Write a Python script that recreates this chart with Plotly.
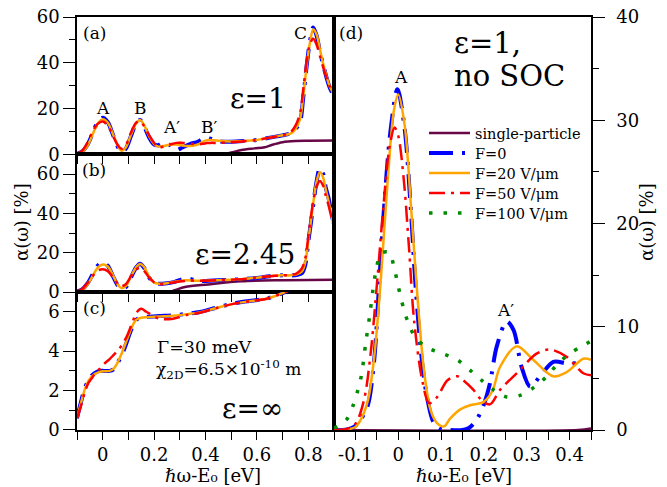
import plotly.graph_objects as go

FONT = "DejaVu Serif"
C_SP = "#670748"
C_F0 = "#0000FF"
C_F20 = "#FFA500"
C_F50 = "#FF0000"
C_F100 = "#008B00"

# ---------------- panel (a) eps = 1 ----------------
xa = [-0.1, -0.08, -0.06, -0.04, -0.02, 0.0, 0.02, 0.04, 0.06, 0.073, 0.09, 0.11, 0.13, 0.145, 0.16, 0.18,
      0.2, 0.215, 0.235, 0.26, 0.287, 0.31, 0.34, 0.37, 0.39, 0.405, 0.42, 0.45, 0.5, 0.55, 0.6, 0.65, 0.7,
      0.73, 0.75, 0.768, 0.78, 0.794, 0.806, 0.819, 0.832, 0.845, 0.858, 0.871, 0.884, 0.9]
a_f0 = [0.2, 1.2, 4.0, 9.0, 14.0, 16.0, 14.0, 8.5, 3.0, 1.0, 2.5, 8.0, 13.5, 15.0, 12.5, 7.5,
        4.3, 4.0, 5.0, 4.2, 1.9, 3.0, 4.5, 5.5, 6.8, 7.3, 6.8, 5.7, 5.5, 5.8, 6.3, 7.3, 8.3,
        9.2, 11.0, 14.3, 24.5, 39.0, 49.0, 55.4, 52.0, 45.0, 39.0, 33.5, 29.0, 25.5]
a_f20 = [0.1, 0.9, 3.6, 8.5, 13.3, 15.3, 13.8, 8.8, 3.5, 1.6, 3.0, 8.5, 13.5, 15.0, 13.0, 8.0,
         4.5, 3.4, 3.6, 4.2, 4.3, 3.8, 3.6, 4.3, 5.5, 6.2, 6.3, 5.9, 5.6, 5.8, 6.3, 7.3, 8.3,
         9.0, 11.0, 15.5, 25.0, 39.0, 48.5, 54.5, 52.5, 46.0, 39.5, 34.0, 29.5, 26.0]
a_f50 = [0.3, 1.5, 5.0, 9.8, 13.3, 14.3, 12.5, 8.0, 3.8, 2.4, 4.0, 9.5, 13.8, 14.5, 12.5, 8.5,
         5.0, 3.0, 3.3, 4.2, 5.0, 5.0, 4.7, 4.4, 4.6, 4.9, 5.0, 5.0, 5.3, 5.7, 6.3, 7.3, 8.3,
         9.5, 12.5, 18.0, 28.0, 41.0, 48.0, 50.5, 48.0, 43.0, 38.0, 33.5, 29.5, 26.0]
xa_sp = [-0.1, 0.3, 0.46, 0.5, 0.54, 0.59, 0.63, 0.66, 0.7, 0.75, 0.8, 0.9]
a_sp = [0.0, 0.0, 0.0, 0.8, 1.9, 2.6, 3.1, 4.2, 5.3, 5.8, 5.9, 6.0]

# ---------------- panel (b) eps = 2.45 ----------------
xb = [-0.1, -0.08, -0.06, -0.04, -0.02, 0.0, 0.02, 0.04, 0.06, 0.073, 0.09, 0.11, 0.13, 0.145, 0.16, 0.18,
      0.2, 0.22, 0.25, 0.28, 0.31, 0.33, 0.36, 0.4, 0.45, 0.5, 0.55, 0.6, 0.65, 0.7, 0.73, 0.755, 0.775,
      0.788, 0.8, 0.81, 0.819, 0.832, 0.845, 0.858, 0.868, 0.879, 0.89, 0.9]
b_f0 = [0.3, 1.3, 4.2, 8.8, 13.3, 15.2, 13.3, 8.0, 3.0, 1.5, 2.5, 7.5, 12.5, 14.4, 12.5, 7.5,
        4.5, 4.2, 4.5, 5.2, 6.5, 7.0, 6.0, 5.6, 6.0, 6.3, 6.6, 7.2, 8.0, 8.5, 8.4, 8.7, 9.5,
        13.7, 25.6, 35.0, 44.0, 56.0, 63.0, 60.0, 53.0, 47.7, 40.0, 34.0]
b_f20 = [0.2, 1.0, 3.6, 8.0, 12.3, 14.0, 13.0, 8.5, 3.5, 2.0, 3.0, 8.0, 12.5, 14.3, 13.0, 8.0,
         4.8, 4.2, 4.5, 5.3, 5.8, 6.0, 5.8, 5.8, 6.0, 6.3, 6.7, 7.3, 8.0, 8.5, 8.5, 9.0, 10.5,
         15.0, 26.0, 36.0, 45.0, 56.0, 61.0, 58.0, 52.0, 46.0, 39.0, 33.0]
b_f50 = [0.4, 1.5, 4.5, 8.0, 10.8, 11.6, 10.6, 7.5, 4.0, 3.0, 4.0, 8.0, 11.5, 12.3, 11.0, 7.5,
         5.0, 4.0, 4.3, 5.0, 5.5, 5.8, 5.8, 5.8, 6.0, 6.3, 6.7, 7.3, 8.0, 8.5, 8.6, 9.5, 12.0,
         17.0, 28.0, 38.0, 46.0, 53.5, 56.5, 54.0, 49.0, 44.0, 38.0, 33.0]
xb_sp = [-0.1, 0.2, 0.26, 0.32, 0.41, 0.54, 0.7, 0.9]
b_sp = [0.0, 0.0, 0.2, 2.6, 3.9, 5.5, 6.0, 6.2]

# ---------------- panel (c) eps = infinity ----------------
xc = [-0.1, -0.085, -0.07, -0.055, -0.044, -0.03, -0.012, 0.005, 0.027, 0.042, 0.053, 0.066, 0.079, 0.092,
      0.105, 0.118, 0.131, 0.15, 0.17, 0.22, 0.274, 0.33, 0.378, 0.44, 0.508, 0.57, 0.638, 0.709, 0.75]
c_f0 = [0.6, 1.4, 2.1, 2.55, 2.75, 2.9, 3.0, 3.0, 3.0, 3.08, 3.27, 3.6, 3.95, 4.4,
        4.9, 5.3, 5.6, 5.72, 5.74, 5.78, 5.82, 5.9, 5.99, 6.2, 6.42, 6.55, 6.67, 7.0, 7.3]
c_f20 = [0.6, 1.35, 2.05, 2.5, 2.7, 2.85, 2.95, 2.98, 3.0, 3.1, 3.3, 3.65, 4.05, 4.5,
         4.95, 5.35, 5.6, 5.7, 5.72, 5.76, 5.8, 5.88, 5.97, 6.18, 6.4, 6.53, 6.66, 7.0, 7.3]
c_f50 = [0.6, 1.2, 1.9, 2.4, 2.6, 2.85, 3.1, 3.35, 3.6, 3.8, 3.95, 4.15, 4.4, 4.7,
         5.1, 5.55, 5.95, 6.15, 6.0, 5.65, 5.65, 5.85, 5.95, 6.18, 6.4, 6.53, 6.66, 7.0, 7.3]

# ---------------- panel (d) eps = 1, no SOC ----------------
xd_f0 = [-0.15, -0.12, -0.1035, -0.09, -0.072, -0.057, -0.045, -0.033, -0.018, -0.002, 0.014, 0.029, 0.0405,
         0.056, 0.068, 0.083, 0.1, 0.12, 0.15, 0.165, 0.183, 0.2, 0.214, 0.23, 0.253, 0.269, 0.288, 0.308,
         0.331, 0.362, 0.393, 0.417, 0.43]
d_f0 = [0.0, 0.05, 0.3, 0.9, 2.25, 6.4, 13.9, 21.6, 29.0, 33.0, 29.5, 21.6, 13.9,
        6.4, 3.0, 0.7, 0.1, 0.0, 0.0, 0.2, 1.0, 2.5, 4.5, 8.1, 10.5, 9.7, 6.1, 4.2,
        5.2, 6.6, 6.45, 6.45, 6.4]
xd_f20 = [-0.15, -0.12, -0.1, -0.085, -0.07, -0.055, -0.04, -0.025, -0.01, 0.0, 0.015, 0.03, 0.045, 0.06,
          0.075, 0.09, 0.107, 0.121, 0.145, 0.1675, 0.1986, 0.22, 0.2376, 0.2766, 0.315, 0.362, 0.393,
          0.432, 0.45]
d_f20 = [0.0, 0.05, 0.3, 1.2, 3.0, 7.5, 15.0, 24.0, 31.0, 32.5, 29.5, 21.5, 12.8, 5.8,
         2.0, 0.7, 0.35, 1.1, 2.0, 2.4, 2.7, 3.8, 6.1, 8.1, 6.8, 5.2, 5.6, 6.9, 6.8]
xd_f50 = [-0.15, -0.12, -0.1, -0.08, -0.0645, -0.049, -0.035, -0.02, -0.0085, 0.0, 0.013, 0.025, 0.037,
          0.056, 0.072, 0.091, 0.1145, 0.138, 0.152, 0.175, 0.199, 0.215, 0.238, 0.277, 0.323, 0.354,
          0.393, 0.432, 0.45]
d_f50 = [0.0, 0.1, 0.6, 2.9, 7.4, 14.5, 21.5, 27.5, 29.3, 28.5, 24.2, 17.7, 10.6,
         4.8, 2.6, 3.2, 4.8, 5.2, 4.8, 3.9, 2.7, 2.5, 3.9, 5.5, 7.4, 7.8, 7.1, 5.5, 5.3]
xd_f100 = [-0.15, -0.135, -0.119, -0.1035, -0.094, -0.086, -0.076, -0.066, -0.057, -0.0505, -0.041, -0.0217,
           -0.01, -0.002, 0.0056, 0.015, 0.027, 0.043, 0.072, 0.107, 0.138, 0.1675, 0.195, 0.222, 0.253,
           0.288, 0.319, 0.347, 0.37, 0.397, 0.428, 0.45]
d_f100 = [0.2, 0.5, 1.1, 2.6, 3.9, 5.3, 8.4, 11.3, 14.2, 15.7, 17.1, 17.2,
          15.8, 14.3, 12.9, 11.4, 10.0, 8.8, 7.9, 7.35, 6.8, 5.8, 4.8, 3.9, 3.2,
          3.4, 4.2, 5.2, 6.3, 7.3, 8.1, 8.6]
xd_sp = [-0.15, 0.42, 0.45]
d_sp = [0.0, 0.0, 0.15]

names = ["single-particle", "F=0", "F=20 V/\u03bcm", "F=50 V/\u03bcm", "F=100 V/\u03bcm"]
keys = ["sp", "f0", "f20", "f50", "f100"]
styles = {
    "sp": dict(color=C_SP, width=2.5, dash="solid"),
    "f0": dict(color=C_F0, width=4, dash="24px,9px,3px,9px"),
    "f20": dict(color=C_F20, width=2.5, dash="solid"),
    "f50": dict(color=C_F50, width=2.5, dash="16px,6px,3px,6px"),
    "f100": dict(color=C_F100, width=3.5, dash="3.5px,11px"),
}

OFF = 8
W, H = 667 - OFF, 487 - OFF
PL, PR, PT, PB = 77, 591, 17, 430

fig = go.Figure()


def add(x, y, key, ax, show):
    st = styles[key]
    i = keys.index(key)
    sfx = "" if ax == 1 else str(ax)
    fig.add_trace(go.Scatter(
        x=x, y=y, mode="lines", name=names[i], showlegend=show,
        legend="legend" if i == 0 else "legend%d" % (i + 1),
        line=dict(color=st["color"], width=st["width"], dash=st["dash"], shape="spline", smoothing=0.9),
        xaxis="x" + sfx, yaxis="y" + sfx, hoverinfo="skip"))


add(xa_sp, a_sp, "sp", 1, False)
add(xa, a_f0, "f0", 1, False)
add(xa, a_f20, "f20", 1, False)
add(xa, a_f50, "f50", 1, False)

add(xb_sp, b_sp, "sp", 2, False)
add(xb, b_f0, "f0", 2, False)
add(xb, b_f20, "f20", 2, False)
add(xb, b_f50, "f50", 2, False)

add(xc, c_f0, "f0", 3, False)
add(xc, c_f20, "f20", 3, False)
add(xc, c_f50, "f50", 3, False)

add(xd_sp, d_sp, "sp", 4, True)
add(xd_f0, d_f0, "f0", 4, True)
add(xd_f20, d_f20, "f20", 4, True)
add(xd_f50, d_f50, "f50", 4, True)
add(xd_f100, d_f100, "f100", 4, True)

tickfont = dict(family=FONT, size=18, color="black")
common_axis = dict(showline=True, linecolor="black", linewidth=1.5, mirror=True, showgrid=False,
                   zeroline=False, ticks="outside", tickcolor="black", tickwidth=1.2, tickfont=tickfont,
                   automargin=False, fixedrange=True, ticklabeloverflow="allow")

left_x = dict(range=[-0.1, 0.9], domain=[0, 0.5], tickmode="linear", tick0=0, dtick=0.2, ticklen=8,
              ticklabelstandoff=0,
              minor=dict(ticks="outside", tickmode="linear", tick0=0, dtick=0.1, ticklen=8,
                         tickcolor="black", tickwidth=1.2))


def py(v):
    return (PB - v) / (PB - PT)


def px(v):
    return (v - PL) / (PR - PL)


legends = {}
rows = [133, 153, 173, 193, 213]
for i in range(5):
    key = "legend" if i == 0 else "legend%d" % (i + 1)
    legends[key] = dict(x=px(424), y=py(rows[i]), xanchor="left", yanchor="middle", bgcolor="rgba(0,0,0,0)",
                        font=dict(family=FONT, size=14.5, color="black"), itemwidth=41, borderwidth=0)

fig.update_layout(
    width=W, height=H, template="none",
    margin=dict(l=PL - OFF, r=W - (PR - OFF), t=PT - OFF, b=H - (PB - OFF), autoexpand=False),
    paper_bgcolor="white", plot_bgcolor="white",
    font=dict(family=FONT, size=18, color="black"),
    xaxis=dict(**common_axis, **left_x, anchor="y", showticklabels=False),
    xaxis2=dict(**common_axis, **left_x, anchor="y2", showticklabels=False),
    xaxis3=dict(**common_axis, **left_x, anchor="y3", showticklabels=True),
    yaxis=dict(**common_axis, domain=[0.6675, 1.0], range=[0, 60], anchor="x", tickmode="linear", tick0=0, dtick=20,
               ticklen=12, minor=dict(ticks="outside", tickmode="linear", tick0=0, dtick=10, ticklen=6, tickcolor="black")),
    yaxis2=dict(**common_axis, domain=[0.334, 0.6675], range=[0, 70], anchor="x2", tickmode="linear", tick0=0, dtick=20,
                ticklen=12, minor=dict(ticks="outside", tickmode="linear", tick0=0, dtick=10, ticklen=6, tickcolor="black")),
    yaxis3=dict(**common_axis, domain=[0.0, 0.334], range=[0, 7], anchor="x3", tickmode="linear", tick0=0, dtick=2,
                ticklen=12, minor=dict(ticks="outside", tickmode="linear", tick0=0, dtick=1, ticklen=6, tickcolor="black")),
    xaxis4=dict(**common_axis, domain=[0.5, 1.0], range=[-0.15, 0.45], anchor="y4",
                tickmode="array", tickvals=[-0.1, 0, 0.1, 0.2, 0.3, 0.4],
                ticktext=["-0.1", "0", "0.1", "0.2", "0.3", "0.4"], ticklen=8, ticklabelstandoff=0,
                minor=dict(ticks="outside", tickmode="linear", tick0=0, dtick=0.05, ticklen=8, tickcolor="black")),
    yaxis4=dict(**common_axis, domain=[0.0, 1.0], range=[0, 40], anchor="x4", side="right",
                tickmode="linear", tick0=0, dtick=10, ticklen=12, ticklabelstandoff=8,
                minor=dict(ticks="outside", tickmode="linear", tick0=0, dtick=5, ticklen=6, tickcolor="black")),
    **legends,
)


def ann(text, x, y, size, xanchor="center", angle=0):
    fig.add_annotation(text=text, x=px(x), y=py(y), xref="paper", yref="paper",
                       showarrow=False, xanchor=xanchor, yanchor="middle", textangle=angle,
                       font=dict(family=FONT, size=size, color="black"))


ann("(a)", 94, 33, 17)
ann("A", 103, 108, 17)
ann("B", 140, 108, 17)
ann("A\u2032", 171, 127, 17)
ann("B\u2032", 209, 127, 17)
ann("C", 300, 33, 17)
ann("\u03b5=1", 258, 98, 28)
ann("(b)", 94, 170, 17)
ann("\u03b5=2.45", 245, 254, 28)
ann("(c)", 94, 308, 17)
ann("\u0393=30 meV", 155, 347, 17.5, "left")
ann("\u03c7<sub>2D</sub>=6.5\u00d710<sup>-10</sup> m", 154, 369, 17, "left")
ann("\u03b5=\u221e", 252, 408, 28)
ann("(d)", 351, 33, 17)
ann("\u03b5=1,", 452, 43, 29, "left")
ann("no SOC", 452, 76, 29, "left")
ann("A", 401, 77, 17)
ann("A\u2032", 505, 310, 17)

ann("\u03b1(\u03c9) [%]", 22, 222, 18, angle=-90)
ann("\u03b1(\u03c9) [%]", 647, 222, 18, angle=-90)
ann("\u210f\u03c9-E\u2080 [eV]", 213, 475, 18)
ann("\u210f\u03c9-E\u2080 [eV]", 464, 475, 18)

fig.write_html("out.html")
